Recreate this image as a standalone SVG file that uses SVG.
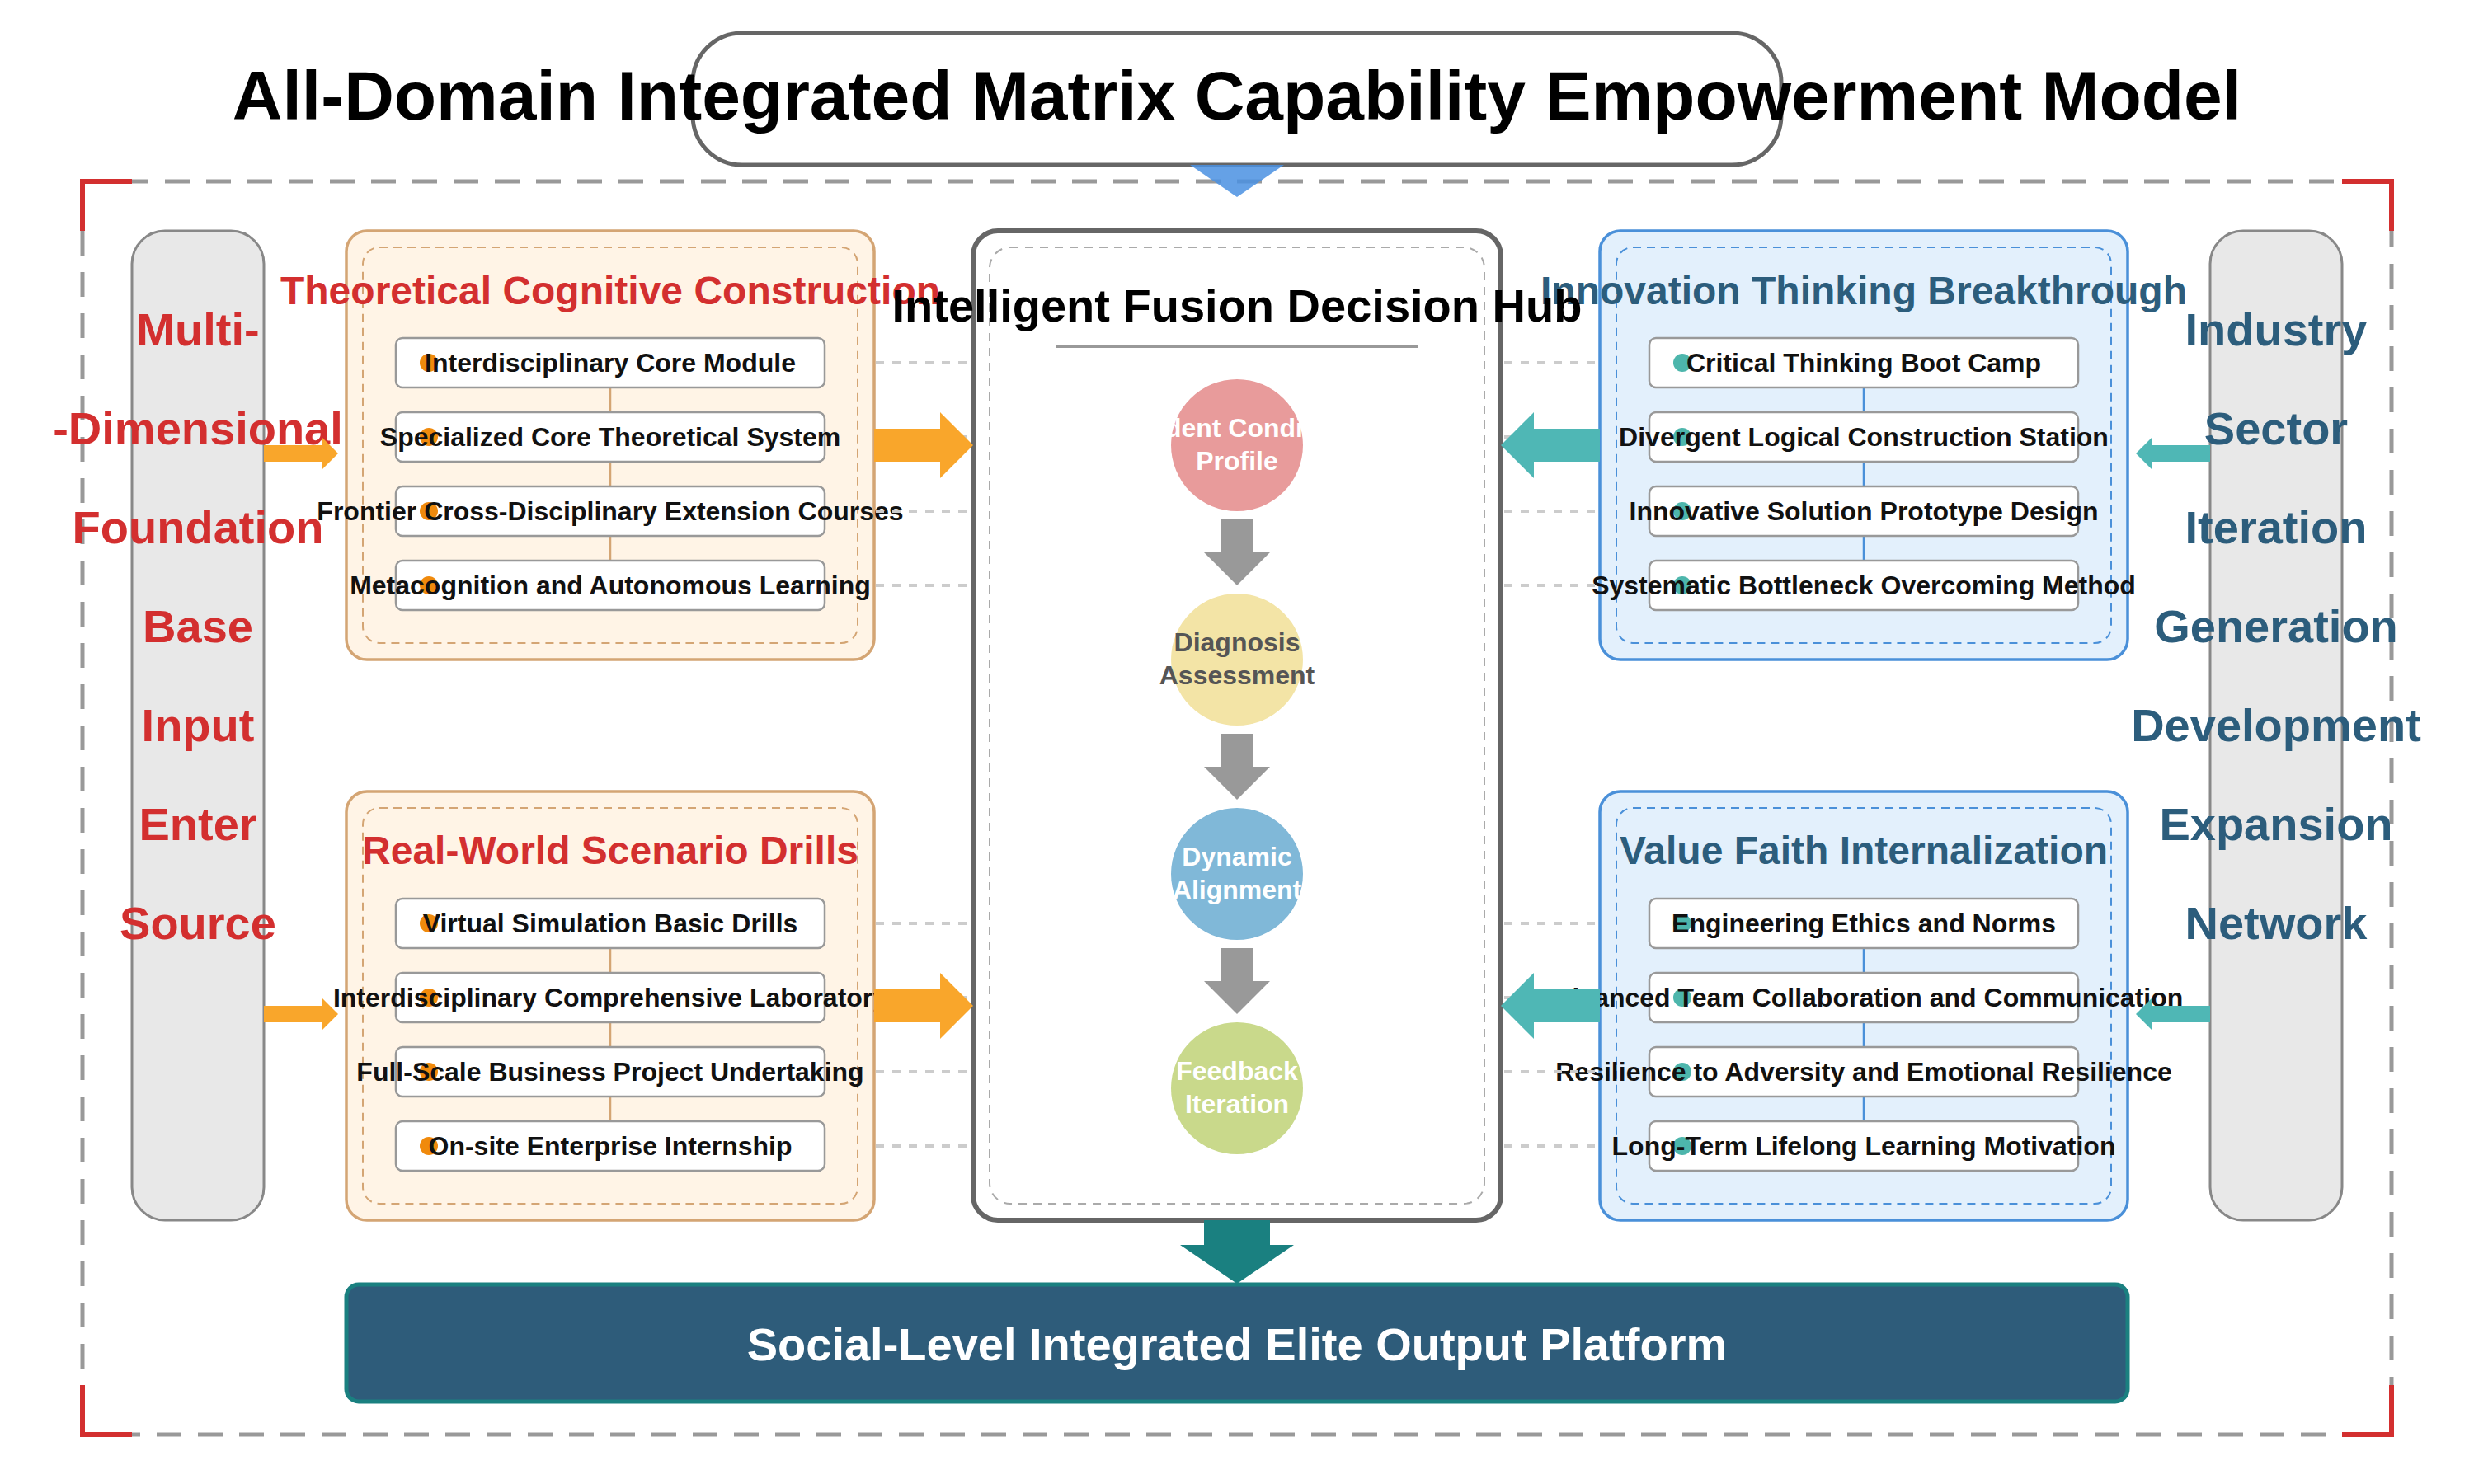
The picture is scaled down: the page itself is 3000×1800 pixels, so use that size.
<svg xmlns="http://www.w3.org/2000/svg" width="3000" height="1800" viewBox="0 0 3000 1800">
<style>
text{font-family:"Liberation Sans",Arial,Helvetica,sans-serif;font-weight:bold;text-anchor:middle}
.pill{fill:#e8e8e8;stroke:#888;stroke-width:3}
.pillL{fill:#d32f2f;font-size:56px}
.pillR{fill:#2c5d7c;font-size:56px}
.obox{fill:#fff4e6;stroke:#d4a574;stroke-width:3.5}
.oin{fill:none;stroke:#d4a574;stroke-width:2;stroke-dasharray:10 7}
.bbox{fill:#e3f0fc;stroke:#4a90d9;stroke-width:3.5}
.bin{fill:none;stroke:#4a90d9;stroke-width:2;stroke-dasharray:10 7}
.item{fill:#fff;stroke:#999;stroke-width:2.5}
.itxt{fill:#111;font-size:32px}
.ttlR{fill:#d32f2f;font-size:48px}
.ttlB{fill:#2c5d7c;font-size:48px}
.odot{fill:#f08a0c}
.tdot{fill:#4db6ac}
.ctxt{font-size:32px;fill:#fff}
.dash{stroke:#ccc;stroke-width:4;stroke-dasharray:10 10}
.org{fill:#f9a62b}
.teal{fill:#4fb7b5}
.gray{fill:#999}
</style>
<rect x="0" y="0" width="3000" height="1800" fill="#fff"/>
<g id="frame">
<rect x="100" y="220" width="2800" height="1520" fill="none" stroke="#999" stroke-width="5" stroke-dasharray="30 20"/>
<path d="M100,280 V220 H160 M2840,220 H2900 V280 M100,1680 V1740 H160 M2840,1740 H2900 V1680" fill="none" stroke="#d32f2f" stroke-width="6"/>
</g>
<g id="title">
<rect x="840" y="40" width="1320" height="160" rx="60" fill="#fff" stroke="#666" stroke-width="5"/>
<text x="1500" y="145" font-size="84" fill="#000">All-Domain Integrated Matrix Capability Empowerment Model</text>
</g>
<g id="input-pill">
<rect class="pill" x="160" y="280" width="160" height="1200" rx="40"/>
<text class="pillL" x="240" y="419">Multi-</text>
<text class="pillL" x="240" y="539">-Dimensional</text>
<text class="pillL" x="240" y="659">Foundation</text>
<text class="pillL" x="240" y="779">Base</text>
<text class="pillL" x="240" y="899">Input</text>
<text class="pillL" x="240" y="1019">Enter</text>
<text class="pillL" x="240" y="1139">Source</text>
</g>
<g id="output-pill">
<rect class="pill" x="2680" y="280" width="160" height="1200" rx="40"/>
<text class="pillR" x="2760" y="419">Industry</text>
<text class="pillR" x="2760" y="539">Sector</text>
<text class="pillR" x="2760" y="659">Iteration</text>
<text class="pillR" x="2760" y="779">Generation</text>
<text class="pillR" x="2760" y="899">Development</text>
<text class="pillR" x="2760" y="1019">Expansion</text>
<text class="pillR" x="2760" y="1139">Network</text>
</g>
<g id="theory">
<rect class="obox" x="420" y="280" width="640" height="520" rx="25"/>
<rect class="oin" x="440" y="300" width="600" height="480" rx="20"/>
<text class="ttlR" x="740" y="369">Theoretical Cognitive Construction</text>
<line x1="740" y1="440" x2="740" y2="710" stroke="#d4a574" stroke-width="2.5"/>
<rect class="item" x="480" y="410" width="520" height="60" rx="8"/>
<rect class="item" x="480" y="500" width="520" height="60" rx="8"/>
<rect class="item" x="480" y="590" width="520" height="60" rx="8"/>
<rect class="item" x="480" y="680" width="520" height="60" rx="8"/>
<circle class="odot" cx="520" cy="440" r="11"/>
<circle class="odot" cx="520" cy="530" r="11"/>
<circle class="odot" cx="520" cy="620" r="11"/>
<circle class="odot" cx="520" cy="710" r="11"/>
<text class="itxt" x="740" y="451">Interdisciplinary Core Module</text>
<text class="itxt" x="740" y="541">Specialized Core Theoretical System</text>
<text class="itxt" x="740" y="631">Frontier Cross-Disciplinary Extension Courses</text>
<text class="itxt" x="740" y="721">Metacognition and Autonomous Learning</text>
</g>
<g id="practice">
<rect class="obox" x="420" y="960" width="640" height="520" rx="25"/>
<rect class="oin" x="440" y="980" width="600" height="480" rx="20"/>
<text class="ttlR" x="740" y="1048">Real-World Scenario Drills</text>
<line x1="740" y1="1120" x2="740" y2="1390" stroke="#d4a574" stroke-width="2.5"/>
<rect class="item" x="480" y="1090" width="520" height="60" rx="8"/>
<rect class="item" x="480" y="1180" width="520" height="60" rx="8"/>
<rect class="item" x="480" y="1270" width="520" height="60" rx="8"/>
<rect class="item" x="480" y="1360" width="520" height="60" rx="8"/>
<circle class="odot" cx="520" cy="1120" r="11"/>
<circle class="odot" cx="520" cy="1210" r="11"/>
<circle class="odot" cx="520" cy="1300" r="11"/>
<circle class="odot" cx="520" cy="1390" r="11"/>
<text class="itxt" x="740" y="1131">Virtual Simulation Basic Drills</text>
<text class="itxt" x="740" y="1221">Interdisciplinary Comprehensive Laboratory</text>
<text class="itxt" x="740" y="1311">Full-Scale Business Project Undertaking</text>
<text class="itxt" x="740" y="1401">On-site Enterprise Internship</text>
</g>
<g id="innovation">
<rect class="bbox" x="1940" y="280" width="640" height="520" rx="25"/>
<rect class="bin" x="1960" y="300" width="600" height="480" rx="20"/>
<text class="ttlB" x="2260" y="369">Innovation Thinking Breakthrough</text>
<line x1="2260" y1="440" x2="2260" y2="710" stroke="#4a90d9" stroke-width="2.5"/>
<rect class="item" x="2000" y="410" width="520" height="60" rx="8"/>
<rect class="item" x="2000" y="500" width="520" height="60" rx="8"/>
<rect class="item" x="2000" y="590" width="520" height="60" rx="8"/>
<rect class="item" x="2000" y="680" width="520" height="60" rx="8"/>
<circle class="tdot" cx="2040" cy="440" r="11"/>
<circle class="tdot" cx="2040" cy="530" r="11"/>
<circle class="tdot" cx="2040" cy="620" r="11"/>
<circle class="tdot" cx="2040" cy="710" r="11"/>
<text class="itxt" x="2260" y="451">Critical Thinking Boot Camp</text>
<text class="itxt" x="2260" y="541">Divergent Logical Construction Station</text>
<text class="itxt" x="2260" y="631">Innovative Solution Prototype Design</text>
<text class="itxt" x="2260" y="721">Systematic Bottleneck Overcoming Method</text>
</g>
<g id="values">
<rect class="bbox" x="1940" y="960" width="640" height="520" rx="25"/>
<rect class="bin" x="1960" y="980" width="600" height="480" rx="20"/>
<text class="ttlB" x="2260" y="1048">Value Faith Internalization</text>
<line x1="2260" y1="1120" x2="2260" y2="1390" stroke="#4a90d9" stroke-width="2.5"/>
<rect class="item" x="2000" y="1090" width="520" height="60" rx="8"/>
<rect class="item" x="2000" y="1180" width="520" height="60" rx="8"/>
<rect class="item" x="2000" y="1270" width="520" height="60" rx="8"/>
<rect class="item" x="2000" y="1360" width="520" height="60" rx="8"/>
<circle class="tdot" cx="2040" cy="1120" r="11"/>
<circle class="tdot" cx="2040" cy="1210" r="11"/>
<circle class="tdot" cx="2040" cy="1300" r="11"/>
<circle class="tdot" cx="2040" cy="1390" r="11"/>
<text class="itxt" x="2260" y="1131">Engineering Ethics and Norms</text>
<text class="itxt" x="2260" y="1221">Advanced Team Collaboration and Communication</text>
<text class="itxt" x="2260" y="1311">Resilience to Adversity and Emotional Resilience</text>
<text class="itxt" x="2260" y="1401">Long-Term Lifelong Learning Motivation</text>
</g>
<g id="hub">
<rect x="1180" y="280" width="640" height="1200" rx="30" fill="#fff" stroke="#666" stroke-width="6"/>
<rect x="1200" y="300" width="600" height="1160" rx="25" fill="none" stroke="#aaa" stroke-width="2" stroke-dasharray="10 8"/>
<text x="1500" y="390" font-size="56" fill="#000">Intelligent Fusion Decision Hub</text>
<line x1="1280" y1="420" x2="1720" y2="420" stroke="#999" stroke-width="4"/>
</g>
<g id="step-profile">
<circle cx="1500" cy="540" r="80" fill="#e89b9b"/>
<text class="ctxt" x="1500" y="530">Student Condition</text>
<text class="ctxt" x="1500" y="570">Profile</text>
</g>
<g id="step-diagnosis">
<circle cx="1500" cy="800" r="80" fill="#f3e4a6"/>
<text class="ctxt" x="1500" y="790" style="fill:#555">Diagnosis</text>
<text class="ctxt" x="1500" y="830" style="fill:#555">Assessment</text>
</g>
<g id="step-alignment">
<circle cx="1500" cy="1060" r="80" fill="#80b8d8"/>
<text class="ctxt" x="1500" y="1050">Dynamic</text>
<text class="ctxt" x="1500" y="1090">Alignment</text>
</g>
<g id="step-feedback">
<circle cx="1500" cy="1320" r="80" fill="#c9d98b"/>
<text class="ctxt" x="1500" y="1310">Feedback</text>
<text class="ctxt" x="1500" y="1350">Iteration</text>
</g>
<g id="platform">
<rect x="420" y="1558" width="2160" height="142" rx="15" fill="#2e5c7a" stroke="#1a8080" stroke-width="5"/>
<text x="1500" y="1650" font-size="56" fill="#fff">Social-Level Integrated Elite Output Platform</text>
</g>
<g id="connectors">
<g class="dash">
<line x1="1062" y1="440" x2="1172" y2="440"/><line x1="1062" y1="530" x2="1172" y2="530"/>
<line x1="1062" y1="620" x2="1172" y2="620"/><line x1="1062" y1="710" x2="1172" y2="710"/>
<line x1="1062" y1="1120" x2="1172" y2="1120"/><line x1="1062" y1="1210" x2="1172" y2="1210"/>
<line x1="1062" y1="1300" x2="1172" y2="1300"/><line x1="1062" y1="1390" x2="1172" y2="1390"/>
<line x1="1824" y1="440" x2="1938" y2="440"/><line x1="1824" y1="530" x2="1938" y2="530"/>
<line x1="1824" y1="620" x2="1938" y2="620"/><line x1="1824" y1="710" x2="1938" y2="710"/>
<line x1="1824" y1="1120" x2="1938" y2="1120"/><line x1="1824" y1="1210" x2="1938" y2="1210"/>
<line x1="1824" y1="1300" x2="1938" y2="1300"/><line x1="1824" y1="1390" x2="1938" y2="1390"/>
</g>
<polygon points="1443,200 1557,200 1500,239" fill="#4a90e2" opacity="0.85"/>
<polygon class="org" points="320,540 390,540 390,530 410,550 390,570 390,560 320,560"/>
<polygon class="org" points="320,1220 390,1220 390,1210 410,1230 390,1250 390,1240 320,1240"/>
<polygon class="org" points="1060,520 1140,520 1140,500 1180,540 1140,580 1140,560 1060,560"/>
<polygon class="org" points="1060,1200 1140,1200 1140,1180 1180,1220 1140,1260 1140,1240 1060,1240"/>
<polygon class="teal" points="1940,520 1860,520 1860,500 1820,540 1860,580 1860,560 1940,560"/>
<polygon class="teal" points="1940,1200 1860,1200 1860,1180 1820,1220 1860,1260 1860,1240 1940,1240"/>
<polygon class="teal" points="2680,540 2610,540 2610,530 2590,550 2610,570 2610,560 2680,560"/>
<polygon class="teal" points="2680,1220 2610,1220 2610,1210 2590,1230 2610,1250 2610,1240 2680,1240"/>
<polygon class="gray" points="1480,630 1520,630 1520,670 1540,670 1500,710 1460,670 1480,670"/>
<polygon class="gray" points="1480,890 1520,890 1520,930 1540,930 1500,970 1460,930 1480,930"/>
<polygon class="gray" points="1480,1150 1520,1150 1520,1190 1540,1190 1500,1230 1460,1190 1480,1190"/>
<polygon points="1460,1480 1540,1480 1540,1510 1569,1510 1500,1557 1431,1510 1460,1510" fill="#1a8080"/>
</g>
</svg>
